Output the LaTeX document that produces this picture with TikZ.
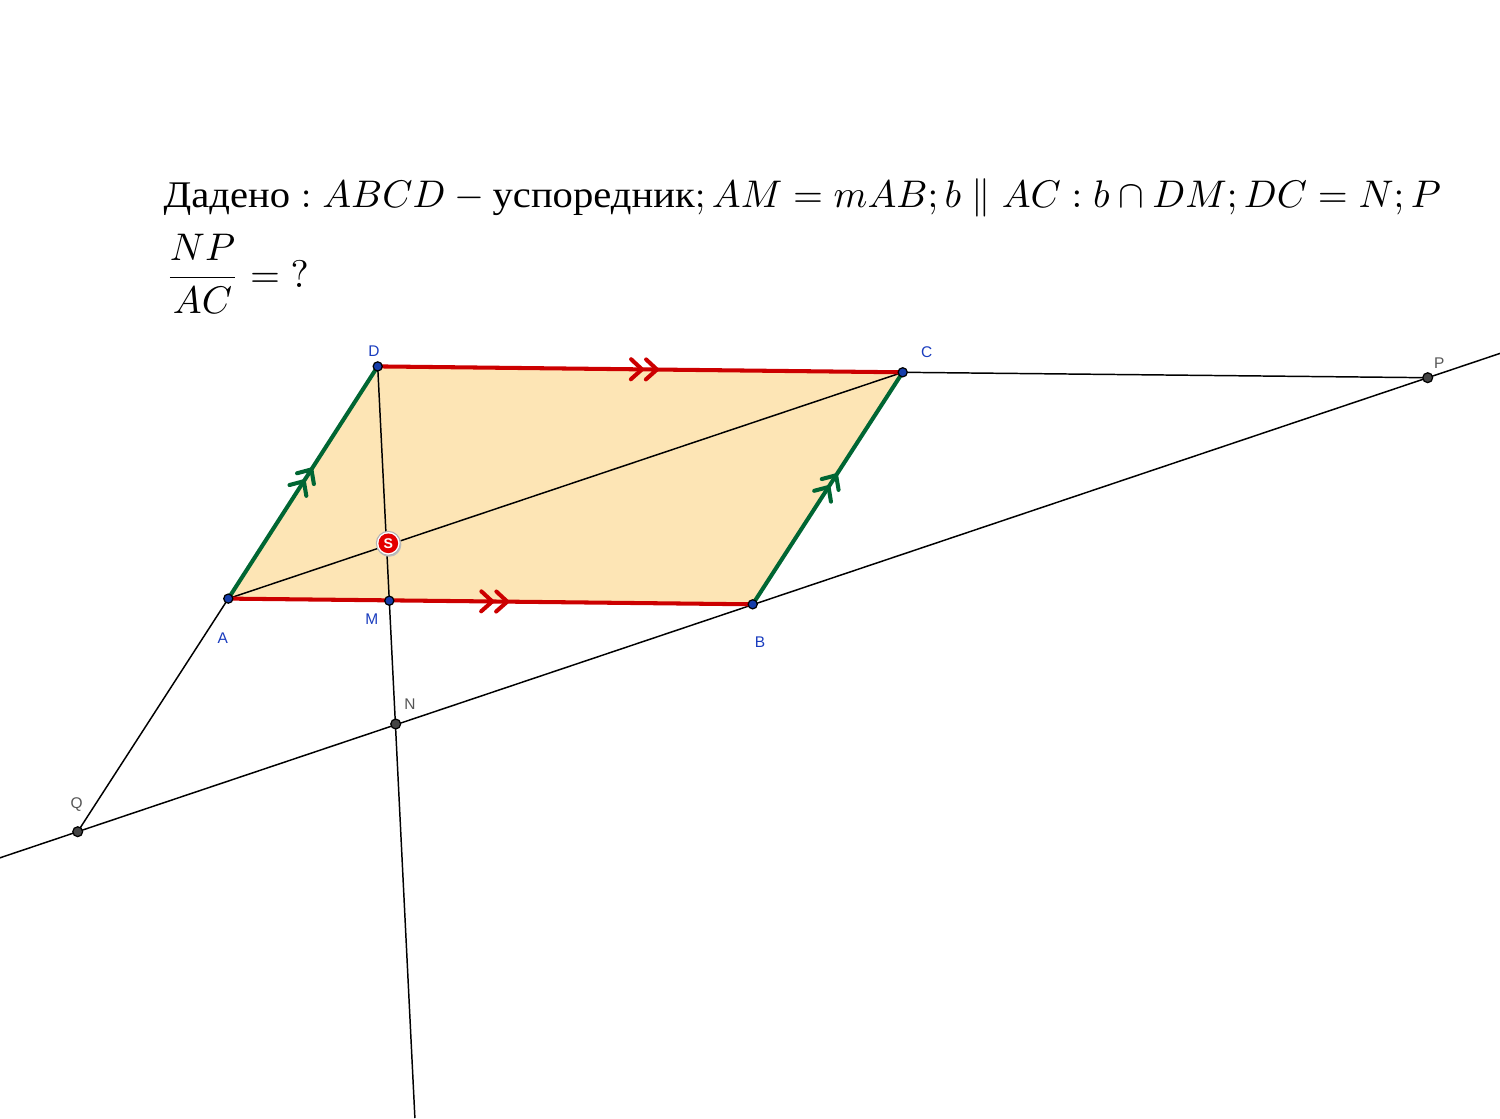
\documentclass[tikz,border=0pt]{standalone}
\usepackage{fontspec}
\usepackage{amsmath}
\usetikzlibrary{decorations.markings,calc}
\newfontfamily\cyrfont[FakeStretch=1.08]{Liberation Serif}
\newfontfamily\labfont{Liberation Sans}
\definecolor{fillc}{RGB}{253,229,181}
\definecolor{redc}{RGB}{204,0,0}
\definecolor{greenc}{RGB}{0,102,51}
\definecolor{bluept}{RGB}{21,61,170}
\definecolor{bluelab}{RGB}{25,60,190}
\definecolor{graypt}{RGB}{68,68,68}
\definecolor{graylab}{RGB}{85,85,85}
\definecolor{sred}{RGB}{228,0,0}
\begin{document}
\begin{tikzpicture}[x=0.01cm,y=-0.01cm,
  thinline/.style={line width=0.42pt, draw=black},
  chev/.style={line width=1.15pt, line cap=round, line join=round},
  redside/.style={line width=1.15pt, draw=redc, postaction={decorate},
    decoration={markings, mark=at position 0.532 with {
      \draw[chev, redc] (-11,-10) -- (0,0) -- (-11,10);
      \draw[chev, redc] (-26,-10) -- (-15,0) -- (-26,10);}}},
  greenside/.style={line width=1.15pt, draw=greenc, postaction={decorate},
    decoration={markings, mark=at position 0.557 with {
      \draw[chev, greenc] (-11,-10) -- (0,0) -- (-11,10);
      \draw[chev, greenc] (-25,-10) -- (-14,0) -- (-25,10);}}},
  ptblue/.style={circle, fill=bluept, draw=black, line width=0.35pt, inner sep=0pt, minimum size=2.6pt},
  ptgray/.style={circle, fill=graypt, draw=black, line width=0.35pt, inner sep=0pt, minimum size=2.8pt},
  lab/.style={inner sep=0pt, font=\labfont\fontsize{4.4}{5}\selectfont},
  labblue/.style={lab, text=bluelab},
  labgray/.style={lab, text=graylab},
  txt/.style={inner sep=0pt, anchor=base west, font=\fontsize{10.7}{13}\selectfont}
]
\useasboundingbox (0,0) rectangle (1500,1118);
\clip (0,0) rectangle (1500,1118);

% points
\coordinate (A) at (228.3,598.6);
\coordinate (B) at (752.7,604.3);
\coordinate (C) at (902.7,372.3);
\coordinate (D) at (377.7,366.4);
\coordinate (M) at (389.3,600.7);
\coordinate (N) at (395.7,724.0);
\coordinate (Q) at (77.7,831.7);
\coordinate (P) at (1427.7,377.7);
\coordinate (S) at (388.3,543.3);
\coordinate (Ssh) at (389.1,544.5);
\coordinate (bL) at (0,857.8);
\coordinate (bR) at (1500,353.4);
\coordinate (DMend) at (414.9,1118);

% fill
\fill[fillc] (A) -- (B) -- (C) -- (D) -- cycle;

% thin lines
\draw[thinline] (A) -- (C);
\draw[thinline] (D) -- (DMend);
\draw[thinline] (bL) -- (bR);
\draw[thinline] (A) -- (Q);
\draw[thinline] (C) -- (P);

% sides
\draw[redside] (D) -- (C);
\draw[redside] (A) -- (B);
\draw[greenside] (A) -- (D);
\draw[greenside] (B) -- (C);

% point markers
\node[ptblue] (pA) at (A) {};
\node[ptblue] (pB) at (B) {};
\node[ptblue] (pC) at (C) {};
\node[ptblue] (pD) at (D) {};
\node[ptblue] (pM) at (M) {};
\node[ptgray] (pN) at (N) {};
\node[ptgray] (pQ) at (Q) {};
\node[ptgray] (pP) at (P) {};

% labels
\node[labblue] (lD) at (374,351) {D};
\node[labblue] (lC) at (926.7,352.3) {C};
\node[labblue] (lA) at (222.7,638.3) {A};
\node[labblue] (lM) at (371.7,618.7) {M};
\node[labblue] (lB) at (760,641.7) {B};
\node[labgray] (lP) at (1439.3,362.7) {P};
\node[labgray] (lQ) at (76.7,804.3) {Q};
\node[labgray] (lN) at (410,704.3) {N};

% S marker
\fill[black!25] (Ssh) circle (12.3);
\node[circle, fill=white, draw=black!30, line width=0.3pt, inner sep=0pt, minimum size=6.8pt] (Souter) at (S) {};
\node[circle, fill=sred, inner sep=0pt, minimum size=5.6pt, text=white,
  font=\labfont\bfseries\fontsize{4}{5}\selectfont] (Smark) at (S) {S};

% text
\node[txt] (given) at (163,207) {$\text{\cyrfont Дадено} : ABCD - \text{\cyrfont успоредник}; AM = mAB; b \parallel AC : b \cap DM; DC = N; P$};
\node[txt] (question) at (165,287) {$\dfrac{NP}{AC} = {?}$};
\end{tikzpicture}
\end{document}
